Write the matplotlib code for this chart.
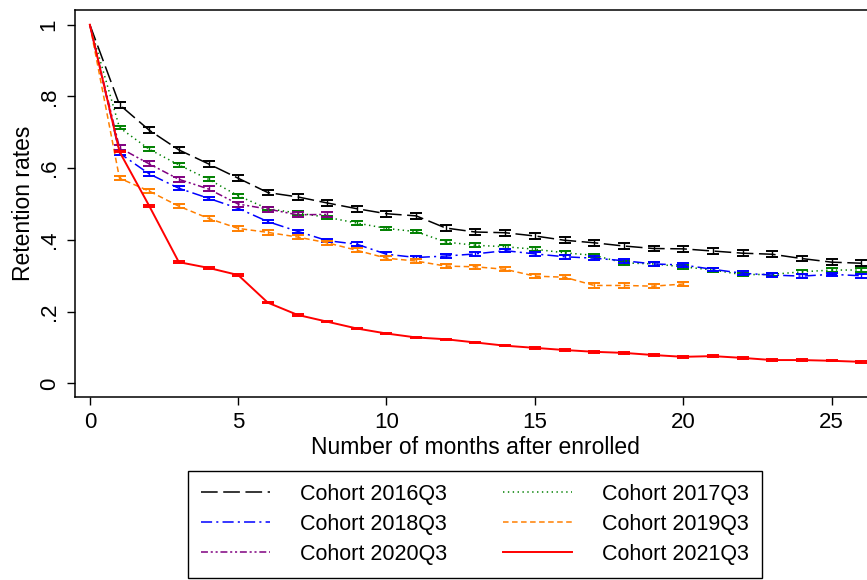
import numpy as np
import matplotlib
matplotlib.use("Agg")
import matplotlib.pyplot as plt

plt.rcParams['font.family'] = ['Liberation Sans', 'DejaVu Sans']
plt.rcParams['lines.scale_dashes'] = False

# retention rates, month 0 onwards
c2016 = [1.0, 0.777, 0.706, 0.651, 0.612, 0.572, 0.532, 0.520, 0.503, 0.487, 0.473,
         0.467, 0.433, 0.422, 0.420, 0.411, 0.399, 0.392, 0.383, 0.376, 0.375, 0.369,
         0.363, 0.360, 0.348, 0.338, 0.335]
c2017 = [1.0, 0.713, 0.653, 0.609, 0.569, 0.523, 0.487, 0.475, 0.463, 0.447, 0.432,
         0.423, 0.394, 0.385, 0.381, 0.374, 0.364, 0.357, 0.336, 0.333, 0.325, 0.316,
         0.303, 0.304, 0.311, 0.316, 0.316]
c2018 = [1.0, 0.642, 0.584, 0.544, 0.516, 0.488, 0.451, 0.424, 0.398, 0.388, 0.360,
         0.351, 0.355, 0.361, 0.370, 0.361, 0.353, 0.349, 0.342, 0.333, 0.330, 0.318,
         0.307, 0.302, 0.299, 0.304, 0.300]
c2019 = [1.0, 0.572, 0.536, 0.494, 0.460, 0.432, 0.421, 0.408, 0.392, 0.371, 0.349,
         0.341, 0.327, 0.325, 0.318, 0.299, 0.296, 0.273, 0.273, 0.271, 0.277]
c2020 = [1.0, 0.657, 0.612, 0.569, 0.542, 0.500, 0.486, 0.470, 0.471]
c2021 = [1.0, 0.646, 0.495, 0.338, 0.322, 0.302, 0.225, 0.191, 0.172, 0.153, 0.139,
         0.128, 0.123, 0.114, 0.105, 0.099, 0.093, 0.088, 0.085, 0.079, 0.074, 0.076,
         0.071, 0.065, 0.065, 0.063, 0.060]

# approximate 95% CI half-widths per cohort
ci = {'2016': 0.008, '2017': 0.005, '2018': 0.005, '2019': 0.006, '2020': 0.007, '2021': 0.002}

series = [
    ('Cohort 2016Q3', c2016, ci['2016'], 'black', (0, (12, 4))),
    ('Cohort 2017Q3', c2017, ci['2017'], '#008000', (0, (1, 2.5))),
    ('Cohort 2018Q3', c2018, ci['2018'], '#0000ff', (0, (8, 3, 1.5, 3))),
    ('Cohort 2019Q3', c2019, ci['2019'], '#ff7f00', (0, (4, 2.5))),
    ('Cohort 2020Q3', c2020, ci['2020'], '#800080', (0, (5, 2, 1.5, 2, 1.5, 2))),
    ('Cohort 2021Q3', c2021, ci['2021'], '#ff0000', '-'),
]

fig = plt.figure(figsize=(8.67, 5.8), dpi=100)
ax = fig.add_axes([75 / 867, 1 - 397 / 580, (876 - 75) / 867, (397 - 10) / 580])

handles = {}
for label, vals, hw, col, ls in series:
    x = np.arange(len(vals))
    y = np.array(vals)
    lw = 1.4 if col == '#ff0000' else 1.1
    line, = ax.plot(x, y, color=col, linestyle=ls, lw=lw, label=label)
    err = np.full(len(vals), hw)
    ax.errorbar(x[1:], y[1:], yerr=err[1:], fmt='none', ecolor=col,
                elinewidth=1.0, capsize=4, capthick=1.4)
    handles[label] = line

ax.set_xlim(-0.5, 26.5)
ax.set_ylim(-0.038, 1.041)
ax.set_xticks([0, 5, 10, 15, 20, 25])
ax.set_yticks([0, 0.2, 0.4, 0.6, 0.8, 1.0])
ax.set_yticklabels(['0', '.2', '.4', '.6', '.8', '1'], rotation=90, va='center')
ax.tick_params(direction='out', length=6, width=1, labelsize=16, pad=5)
ax.set_xlabel('Number of months after enrolled', fontsize=16.5, labelpad=2)
ax.set_ylabel('Retention rates', fontsize=16.5, labelpad=3)
for s in ax.spines.values():
    s.set_linewidth(1.1)

order = ['Cohort 2016Q3', 'Cohort 2018Q3', 'Cohort 2020Q3',
         'Cohort 2017Q3', 'Cohort 2019Q3', 'Cohort 2021Q3']
leg = fig.legend([handles[k] for k in order], order, ncol=2, loc='upper center',
                 bbox_to_anchor=(475 / 867, 1 - 471 / 580), fontsize=15.5,
                 frameon=True, fancybox=False, edgecolor='black', framealpha=1,
                 handlelength=3.2, handletextpad=1.4, columnspacing=2.6,
                 borderpad=0.6, labelspacing=0.42, borderaxespad=0)
leg.get_frame().set_linewidth(1.0)

fig.savefig('out.png', dpi=100)
